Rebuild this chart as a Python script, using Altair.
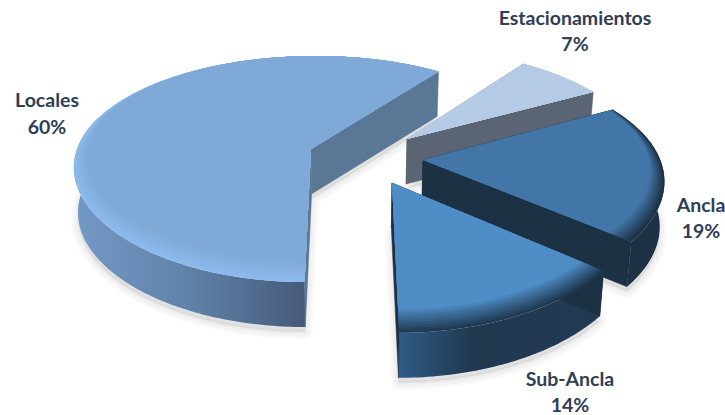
import math
import altair as alt
import pandas as pd

# Shares of the pie and their labels
categories = ["Locales", "Estacionamientos", "Ancla", "Sub-Ancla"]
shares = [60, 7, 19, 14]
# Slice tips on the page, one per category (the pie is exploded)
tips = [(311, 149), (407, 139), (423, 160), (392, 183)]

top_fill = ["#7FAAD8", "#B4CAE5", "#4276A8", "#4F8DC6"]
rim_fill = ["#8CBAEC", "#B4CAE5", "#1D3145", "#1F3A52"]
cut_fill = ["#5A7795", "#5A6472", "#1D3145", "#1D3145"]
wall_stops = [
    [("#7499C8", 0), ("#5F82A8", 0.5), ("#46597A", 1)],
    [("#5A6472", 0), ("#5A6472", 1)],
    [("#1D3145", 0), ("#1D3145", 1)],
    [("#2F5C88", 0), ("#21394F", 0.35), ("#203A52", 1)],
]
label_pos = [(47, 101, 128), (575, 19, 45), (701, 206, 232), (570, 380, 406)]
label_color = "#2F3E54"

# Perspective camera for the pie plane
X0, Y0 = 350.0, 149.0
RX, RY, KX, KY = 234.0, 109.5, 0.14, 0.177
DEPTH = 45
FLOOR_SCALE = 0.985
START = 180.0
PAGE_W, PAGE_H = 725, 415


def project(u, v):
    return X0 + RX * u / (1 - KX * v), Y0 + RY * v / (1 - KY * v)


def unproject(x, y):
    q = (y - Y0) / RY
    v = q / (1 + KY * q)
    return (x - X0) * (1 - KX * v) / RX, v


def arc(tip, a0, a1, inset=0.0):
    u0, v0 = unproject(*tip)
    pts = []
    n = max(2, int(abs(a1 - a0)))
    for i in range(n + 1):
        a = math.radians(a0 + (a1 - a0) * i / n)
        r = 1 - inset * 0.13 * ((1 - math.cos(a)) / 2) ** 1.5
        pts.append(project(u0 + r * math.sin(a), v0 - r * math.cos(a)))
    return pts


def lowered(pts, extra=0):
    # The base of the pie sits slightly closer to the camera axis than its top
    return [(X0 + (x - X0) * FLOOR_SCALE, y + DEPTH + extra) for x, y in pts]


def feature(pts):
    ring = [[round(x, 2), round(y, 2)] for x, y in pts]
    ring.append(ring[0])
    return {"type": "Feature", "properties": {}, "geometry": {"type": "Polygon", "coordinates": [ring]}}


def shape(pts, **style):
    return (
        alt.Chart(alt.Data(values=[feature(pts)]))
        .mark_geoshape(**style)
        .project(type="identity", scale=1, translate=[0, 0])
    )


def mix(c0, c1, t):
    a = [int(c0[i:i + 2], 16) for i in (1, 3, 5)]
    b = [int(c1[i:i + 2], 16) for i in (1, 3, 5)]
    return "#" + "".join(f"{round(p + (q - p) * t):02X}" for p, q in zip(a, b))


# Angular span of every slice, clockwise from the far side of the pie
spans = []
angle = START
for share in shares:
    spans.append((angle, angle + share * 3.6))
    angle += share * 3.6

shadows, bodies = [], []
for i in [1, 0, 2, 3]:
    tip = tips[i]
    a0, a1 = spans[i]
    edge = arc(tip, a0, a1)
    outline = [tip] + edge

    # soft shadow under the slice
    low = lowered(outline, 5)
    for width in (14, 9, 4):
        shadows.append(shape(low, fill="#000000", fillOpacity=0.025,
                             stroke="#000000", strokeOpacity=0.025, strokeWidth=width,
                             strokeJoin="round"))

    # outer wall, only where it faces the viewer
    step = (a1 - a0) / (len(edge) - 1)
    front = [p for k, p in enumerate(edge)
             if math.cos(math.radians(a0 + k * step)) <= 0.3]
    if len(front) > 1:
        gradient = alt.LinearGradient(
            gradient="linear", x1=0, x2=1, y1=0, y2=0,
            stops=[alt.GradientStop(color=c, offset=o) for c, o in wall_stops[i]],
        )
        bodies.append(shape(front + lowered(front)[::-1], fill=gradient))

    # cut faces running from the tip to both ends of the arc
    for end in (edge[0], edge[-1]):
        face = [tip, end] + lowered([end, tip])
        bodies.append(shape(face, fill=cut_fill[i], stroke=cut_fill[i], strokeWidth=0.5))

    # top face, shaded inward from the bevelled rim
    bodies.append(shape(outline, fill=rim_fill[i]))
    steps = 9
    for s in range(1, steps + 1):
        t = s / steps
        bodies.append(shape([tip] + arc(tip, a0, a1, inset=t),
                            fill=mix(rim_fill[i], top_fill[i], t)))

# Two-line data labels
texts = []
for name, share, (x, y1, y2) in zip(categories, shares, label_pos):
    for y, line in ((y1, name), (y2, f"{share}%")):
        texts.append(
            alt.Chart(pd.DataFrame({"label": [line]})).mark_text(
                font="Lato", fontSize=19.5, fontWeight="bold", color=label_color,
                align="center", baseline="middle",
            ).encode(text="label:N", x=alt.value(x), y=alt.value(y))
        )

chart = alt.layer(*shadows, *bodies, *texts).properties(
    width=PAGE_W, height=PAGE_H, padding=0, autosize=alt.AutoSizeParams(type="none"),
    background="#FFFFFF",
).configure_view(stroke=None)

chart.save("out.html", embed_options={"renderer": "svg", "actions": False})
